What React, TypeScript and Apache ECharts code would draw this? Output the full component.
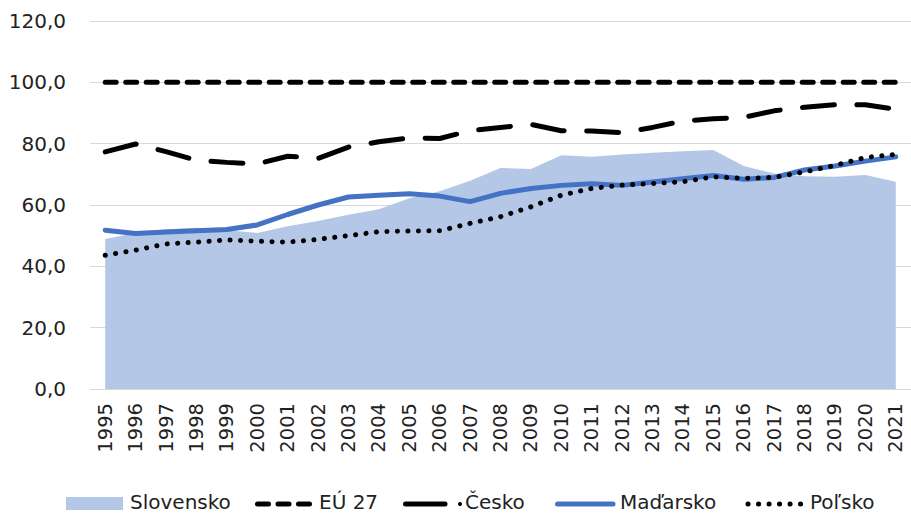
import React, { useEffect, useRef } from "react";
import * as echarts from "echarts";

const years = ["1995","1996","1997","1998","1999","2000","2001","2002","2003","2004","2005","2006","2007","2008","2009","2010","2011","2012","2013","2014","2015","2016","2017","2018","2019","2020","2021"];
const slovensko = [48.9, 50.9, 52.1, 52.6, 51.8, 50.9, 53.1, 54.8, 56.8, 58.6, 62.2, 64.5, 67.9, 72.1, 71.7, 76.2, 75.7, 76.5, 77.0, 77.5, 77.9, 72.7, 70.3, 69.4, 69.2, 69.8, 67.6];
const eu27 = [100, 100, 100, 100, 100, 100, 100, 100, 100, 100, 100, 100, 100, 100, 100, 100, 100, 100, 100, 100, 100, 100, 100, 100, 100, 100, 100];
const cesko = [77.3, 79.9, 77.4, 74.6, 73.9, 73.4, 75.9, 75.2, 78.9, 80.6, 81.9, 81.7, 84.2, 85.3, 86.3, 84.2, 84.1, 83.6, 85.3, 87.4, 88.1, 88.6, 90.7, 91.9, 92.7, 92.7, 91.2];
const madarsko = [51.8, 50.7, 51.2, 51.6, 52.0, 53.5, 56.9, 60.0, 62.6, 63.2, 63.7, 62.9, 61.1, 63.8, 65.4, 66.4, 66.9, 66.4, 67.5, 68.6, 69.6, 68.4, 69.0, 71.4, 72.7, 74.3, 75.7];
const polsko = [43.6, 45.3, 47.3, 47.9, 48.6, 48.2, 47.9, 48.8, 50.0, 51.3, 51.5, 51.6, 54.0, 56.2, 59.4, 63.2, 65.4, 66.5, 67.0, 67.6, 69.2, 68.7, 69.0, 70.8, 72.9, 75.5, 76.5];
const seriesNames = ["Slovensko", "EÚ 27", "Česko", "Maďarsko", "Poľsko"];

const FONT = "'DejaVu Sans', sans-serif";
const AREA = "#b4c7e7";
const BLUE = "#4472c4";
const LW = 5;
const DASH_EU = [11, 9.5];
const DASH_CZ = [32, 22.5];
const DASH_PL = [0.1, 10.4];

export default function App() {
  const ref = useRef<HTMLDivElement>(null);
  useEffect(() => {
    if (!ref.current) return;
    const chart = echarts.init(ref.current, undefined, { renderer: "svg" });
    const ly = 504;
    const ty = 502;
    const txt = (x: number, s: string) => ({
      type: "text",
      x,
      y: ty,
      style: { text: s, font: `20px ${FONT}`, fill: "#222", verticalAlign: "middle", align: "left" },
    });
    const ln = (x1: number, x2: number, color: string, dash?: number[]) => ({
      type: "line",
      shape: { x1, y1: ly, x2, y2: ly },
      style: { stroke: color, lineWidth: LW, lineCap: "round", lineDash: dash || null },
    });
    chart.setOption({
      animation: false,
      grid: { left: 90, top: 21, width: 824, bottom: 124, containLabel: false },
      legend: { show: false },
      graphic: [
        { type: "rect", shape: { x: 66, y: 497, width: 57, height: 13 }, style: { fill: AREA } },
        txt(130, seriesNames[0]),
        ln(257.5, 310, "#000", DASH_EU),
        txt(319, seriesNames[1]),
        ln(405.5, 445, "#000"),
        { type: "circle", shape: { cx: 460, cy: ly, r: 2 }, style: { fill: "#000" } },
        txt(465, seriesNames[2]),
        ln(557.5, 613, BLUE),
        txt(620, seriesNames[3]),
        ln(748, 802, "#000", DASH_PL),
        txt(810, seriesNames[4]),
      ],
      xAxis: {
        type: "category",
        data: years,
        boundaryGap: true,
        axisLine: { show: true, lineStyle: { color: "#d9d9d9", width: 1 } },
        axisTick: { show: false },
        axisLabel: {
          rotate: 90,
          margin: 14,
          interval: 0,
          fontFamily: FONT,
          fontSize: 19.5,
          color: "#222",
        },
      },
      yAxis: {
        type: "value",
        min: 0,
        max: 120,
        interval: 20,
        axisLine: { show: false },
        axisTick: { show: false },
        splitLine: { lineStyle: { color: "#d9d9d9", width: 1 } },
        axisLabel: {
          margin: 24,
          fontFamily: FONT,
          fontSize: 20,
          color: "#222",
          formatter: (v: number) => v.toFixed(1).replace(".", ","),
        },
      },
      series: [
        {
          name: seriesNames[0],
          type: "line",
          data: slovensko,
          symbol: "none",
          itemStyle: { color: AREA },
          lineStyle: { width: 0, color: AREA },
          areaStyle: { color: AREA, opacity: 1 },
          z: 1,
        },
        {
          name: seriesNames[1],
          type: "line",
          data: eu27,
          symbol: "none",
          itemStyle: { color: "#000" },
          lineStyle: { width: LW, color: "#000", type: DASH_EU, cap: "round" },
          z: 2,
        },
        {
          name: seriesNames[2],
          type: "line",
          data: cesko,
          symbol: "none",
          itemStyle: { color: "#000" },
          lineStyle: { width: LW, color: "#000", type: DASH_CZ, cap: "round" },
          z: 3,
        },
        {
          name: seriesNames[3],
          type: "line",
          data: madarsko,
          symbol: "none",
          itemStyle: { color: BLUE },
          lineStyle: { width: LW, color: BLUE, cap: "round" },
          z: 4,
        },
        {
          name: seriesNames[4],
          type: "line",
          data: polsko,
          symbol: "none",
          itemStyle: { color: "#000" },
          lineStyle: { width: LW, color: "#000", type: DASH_PL, cap: "round" },
          z: 5,
        },
      ],
    });
    return () => chart.dispose();
  }, []);
  return <div ref={ref} style={{ width: 911, height: 513, position: "absolute", left: 0, top: 0, background: "#fff" }} />;
}
